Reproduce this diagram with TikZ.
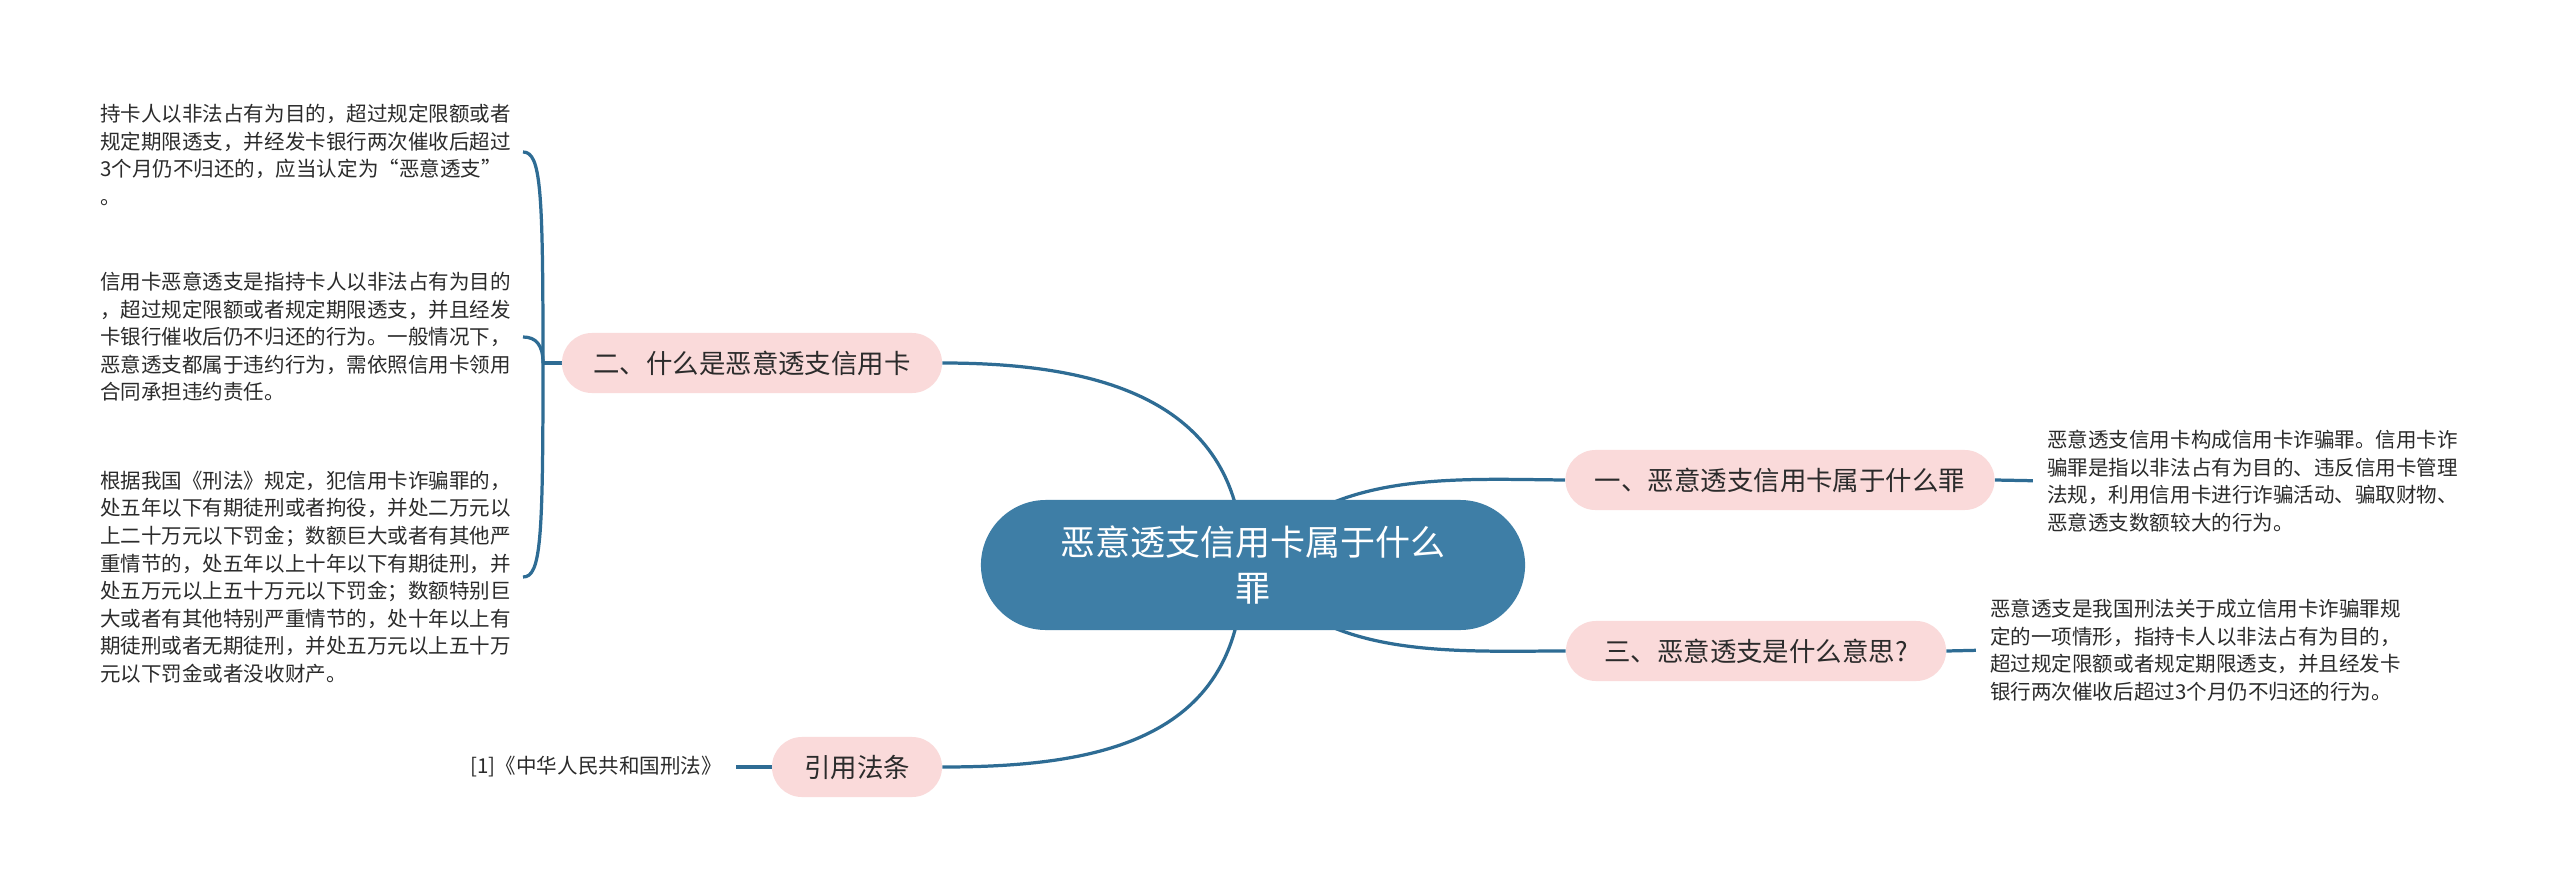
\documentclass[tikz,border=0pt]{standalone}
\usepackage{fontspec}
\setmainfont{Noto Sans CJK SC}
\usetikzlibrary{shapes.misc,backgrounds}
\definecolor{lineblue}{HTML}{2E6C94}
\definecolor{mainblue}{HTML}{3E7EA6}
\definecolor{pinkfill}{HTML}{FADADA}
\definecolor{txt}{HTML}{2B2B2B}
\begin{document}
\begin{tikzpicture}[x=0.025cm,y=-0.025cm,
  central/.style={rounded rectangle, fill=mainblue, text=white, minimum width=13.6cm, minimum height=3.25cm, align=center, font=\fontsize{24.9}{33.4}\selectfont, inner sep=0pt},
  branch/.style={rounded rectangle, fill=pinkfill, text=txt, minimum height=1.5cm, inner sep=0pt, font=\fontsize{18.8}{22}\selectfont},
  leaf/.style={inner sep=0pt, text=txt, align=left, font=\fontsize{14.6}{19.6}\selectfont},
  conn/.style={draw=lineblue, line width=2.3pt}]

\node[central] (c) at (1253,565) {恶意透支信用卡属于什么\\罪};
\node[branch, minimum width=9.5cm] (b2) at (752,363) {二、什么是恶意透支信用卡};
\node[branch, minimum width=10.725cm] (b1) at (1780,480) {一、恶意透支信用卡属于什么罪};
\node[branch, minimum width=9.5cm] (b3) at (1756,651) {三、恶意透支是什么意思?};
\node[branch, minimum width=4.25cm] (b4) at (857,767) {引用法条};

\node[leaf, anchor=west] (l1) at (100,155) {持卡人以非法占有为目的，超过规定限额或者\\规定期限透支，并经发卡银行两次催收后超过\\3个月仍不归还的，应当认定为“恶意透支”\\。};
\node[leaf, anchor=west] (l2) at (100,337) {信用卡恶意透支是指持卡人以非法占有为目的\\，超过规定限额或者规定期限透支，并且经发\\卡银行催收后仍不归还的行为。一般情况下，\\恶意透支都属于违约行为，需依照信用卡领用\\合同承担违约责任。};
\node[leaf, anchor=west] (l3) at (100,577) {根据我国《刑法》规定，犯信用卡诈骗罪的，\\处五年以下有期徒刑或者拘役，并处二万元以\\上二十万元以下罚金；数额巨大或者有其他严\\重情节的，处五年以上十年以下有期徒刑，并\\处五万元以上五十万元以下罚金；数额特别巨\\大或者有其他特别严重情节的，处十年以上有\\期徒刑或者无期徒刑，并处五万元以上五十万\\元以下罚金或者没收财产。};
\node[leaf, anchor=west] (r1) at (2047,481) {恶意透支信用卡构成信用卡诈骗罪。信用卡诈\\骗罪是指以非法占有为目的、违反信用卡管理\\法规，利用信用卡进行诈骗活动、骗取财物、\\恶意透支数额较大的行为。};
\node[leaf, anchor=west] (r3) at (1990,650) {恶意透支是我国刑法关于成立信用卡诈骗罪规\\定的一项情形，指持卡人以非法占有为目的，\\超过规定限额或者规定期限透支，并且经发卡\\银行两次催收后超过3个月仍不归还的行为。};
\node[leaf, anchor=east] (l4) at (722,767) {[1]《中华人民共和国刑法》};

\coordinate (j) at (543,363);
\coordinate (e1) at (523,152);
\coordinate (e2) at (523,337);
\coordinate (e3) at (523,577);
\coordinate (cl) at (1243,565);

\begin{scope}[on background layer]
\fill[white] (0,0) rectangle (2560,887);
\draw[conn] (b2.west) -- (j);
\draw[conn] (j) .. controls (543,190) and (541,152) .. (e1);
\draw[conn] (j) .. controls (543,345) and (536,337) .. (e2);
\draw[conn] (j) .. controls (543,540) and (541,577) .. (e3);
\draw[conn] (cl) .. controls (1243,400) and (1100,363) .. (b2.east);
\draw[conn] (cl) .. controls (1243,740) and (1100,767) .. (b4.east);
\draw[conn] (c.center) .. controls (1320,470) and (1450,479) .. (b1.west);
\draw[conn] (c.center) .. controls (1320,660) and (1450,651) .. (b3.west);
\draw[conn, shorten >=10pt] (b1.east) -- (r1.west);
\draw[conn, shorten >=10pt] (b3.east) -- (r3.west);
\draw[conn, shorten >=10pt] (b4.west) -- (l4.east);
\end{scope}
\end{tikzpicture}
\end{document}
